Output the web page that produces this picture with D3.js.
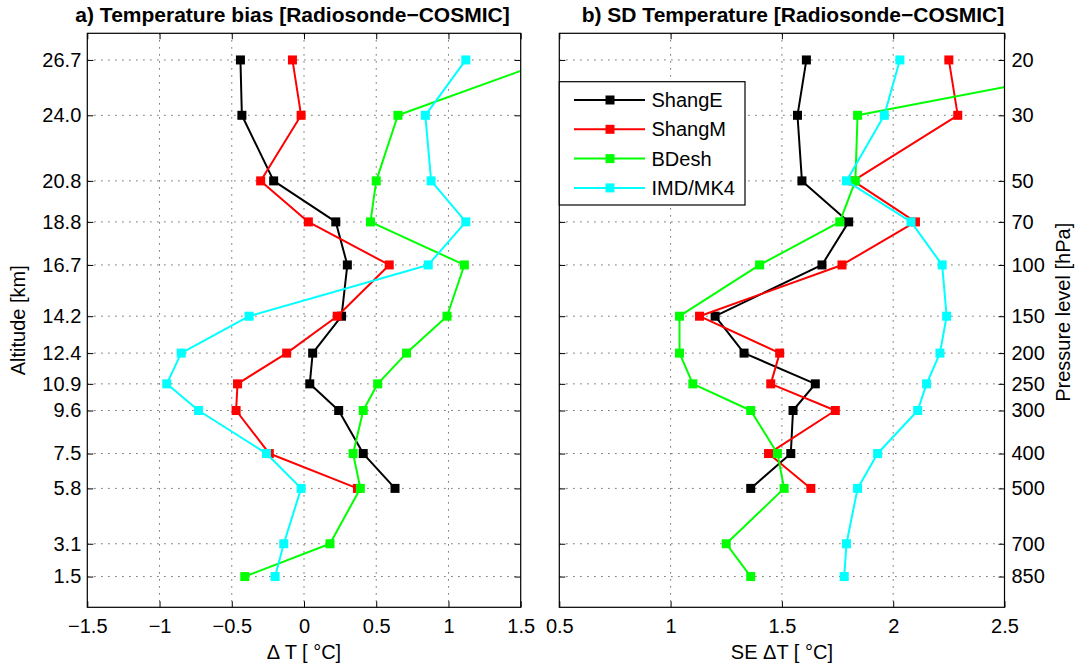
<!DOCTYPE html>
<html>
<head>
<meta charset="utf-8">
<script src="https://cdn.jsdelivr.net/npm/d3@7"></script>
<style>
  html, body { margin: 0; padding: 0; background: #fff; }
  svg { display: block; }
  text { font-family: "Liberation Sans", Arial, Helvetica, sans-serif; fill: #000; }
</style>
</head>
<body>
<svg id="chart" width="1079" height="670"></svg>
<script>
// ---------------- data ----------------
const pressureLevels = [20, 30, 50, 70, 100, 150, 200, 250, 300, 400, 500, 700, 850];
const altitudes = [26.7, 24.0, 20.8, 18.8, 16.7, 14.2, 12.4, 10.9, 9.6, 7.5, 5.8, 3.1, 1.5];

const seriesNames = ["ShangE", "ShangM", "BDesh", "IMD/MK4"];
const seriesColors = ["#000000", "#ff0000", "#00ff00", "#00ffff"];

// a) mean temperature bias (Radiosonde - COSMIC), °C
const biasShangE = [-0.44, -0.43, -0.21, 0.22, 0.30, 0.26, 0.06, 0.04, 0.24, 0.41, 0.63, null, null];
const biasShangM = [-0.08, -0.02, -0.30, 0.03, 0.59, 0.23, -0.12, -0.46, -0.47, -0.24, 0.37, null, null];
const biasBDesh  = [1.71, 0.65, 0.50, 0.46, 1.11, 0.99, 0.71, 0.51, 0.41, 0.34, 0.39, 0.18, -0.41];
const biasIMD    = [1.12, 0.84, 0.88, 1.12, 0.86, -0.38, -0.85, -0.95, -0.73, -0.26, -0.02, -0.14, -0.20];

// b) standard deviation of temperature difference, °C
const sdShangE = [1.61, 1.57, 1.59, 1.80, 1.68, 1.20, 1.33, 1.65, 1.55, 1.54, 1.36, null, null];
const sdShangM = [2.25, 2.29, 1.82, 2.10, 1.77, 1.13, 1.49, 1.45, 1.74, 1.44, 1.63, null, null];
const sdBDesh  = [3.14, 1.84, 1.83, 1.76, 1.40, 1.04, 1.04, 1.10, 1.36, 1.48, 1.51, 1.25, 1.36];
const sdIMD    = [2.03, 1.96, 1.79, 2.08, 2.22, 2.24, 2.21, 2.15, 2.11, 1.93, 1.84, 1.79, 1.78];

const xTicksA = [-1.5, -1, -0.5, 0, 0.5, 1, 1.5];
const xTicksB = [0.5, 1, 1.5, 2, 2.5];

const titleA = "a) Temperature bias [Radiosonde\u2212COSMIC]";
const titleB = "b) SD Temperature [Radiosonde\u2212COSMIC]";
const xLabelA = "\u0394 T [ \u00B0C]";
const xLabelB = "SE \u0394T [ \u00B0C]";
const yLabelA = "Altitude [km]";
const yLabelB = "Pressure level [hPa]";

// ---------------- layout ----------------
const svg = d3.select("#chart");
const plotTop = 33.3, plotBottom = 607.3;
const y = d3.scaleLinear().domain([0, 28]).range([plotBottom, plotTop]);
const xA = d3.scaleLinear().domain([-1.5, 1.5]).range([87.3, 520.7]);
const xB = d3.scaleLinear().domain([0.5, 2.5]).range([559.3, 1004.5]);

const FONT = 20;
const fmtX = d3.format("");

function panel(id, x, xTicks, seriesVals) {
  const g = svg.append("g");
  const [x0, x1] = x.range();

  g.append("clipPath").attr("id", "clip" + id)
    .append("rect").attr("x", x0).attr("y", plotTop).attr("width", x1 - x0).attr("height", plotBottom - plotTop);

  // grid
  const grid = g.append("g").attr("stroke", "#444").attr("stroke-width", 1)
    .attr("stroke-dasharray", "1.2,5.8");
  grid.selectAll("line.v").data(xTicks.filter(t => t > x.domain()[0] && t < x.domain()[1]))
    .join("line").attr("class", "v")
    .attr("x1", d => x(d)).attr("x2", d => x(d)).attr("y1", plotTop).attr("y2", plotBottom);
  grid.selectAll("line.h").data(altitudes).join("line").attr("class", "h")
    .attr("x1", x0).attr("x2", x1).attr("y1", d => y(d)).attr("y2", d => y(d));

  // series
  const plot = g.append("g").attr("clip-path", `url(#clip${id})`);
  const line = d3.line().defined(d => d.v != null).x(d => x(d.v)).y(d => y(d.a));
  seriesVals.forEach((vals, i) => {
    const pts = vals.map((v, k) => ({ v, a: altitudes[k] }));
    plot.append("path").datum(pts).attr("d", line)
      .attr("fill", "none").attr("stroke", seriesColors[i]).attr("stroke-width", 2)
      .attr("stroke-linejoin", "round");
    plot.selectAll(null).data(pts.filter(d => d.v != null)).join("rect")
      .attr("x", d => x(d.v) - 4.5).attr("y", d => y(d.a) - 4.5)
      .attr("width", 9).attr("height", 9).attr("fill", seriesColors[i]);
  });

  // axes (ticks pointing inward)
  const bottomAxis = d3.axisBottom(x).tickValues(xTicks).tickFormat(fmtX).tickSizeInner(-6).tickSizeOuter(0).tickPadding(12);
  const topAxis = d3.axisTop(x).tickValues(xTicks).tickFormat("").tickSizeInner(-6).tickSizeOuter(0);
  const gb = g.append("g").attr("transform", `translate(0,${plotBottom})`).call(bottomAxis);
  const gt = g.append("g").attr("transform", `translate(0,${plotTop})`).call(topAxis);
  [gb, gt].forEach(s => { s.select(".domain").remove(); s.selectAll("line").attr("stroke", "#000"); });
  gb.selectAll("text").attr("font-size", FONT).attr("dy", "0.71em").attr("y", 12);

  return g;
}

const gA = panel("A", xA, xTicksA, [biasShangE, biasShangM, biasBDesh, biasIMD]);
const gB = panel("B", xB, xTicksB, [sdShangE, sdShangM, sdBDesh, sdIMD]);

// y axes
const altFmt = d3.format(".1f");
function yAxes(g, x, labelSide) {
  const [x0, x1] = x.range();
  const la = d3.axisLeft(y).tickValues(altitudes).tickSizeInner(-6).tickSizeOuter(0).tickPadding(6)
    .tickFormat(labelSide === "left" ? altFmt : "");
  const ra = d3.axisRight(y).tickValues(altitudes).tickSizeInner(-6).tickSizeOuter(0).tickPadding(7)
    .tickFormat(labelSide === "right" ? ((d, i) => pressureLevels[i]) : "");
  const gl = g.append("g").attr("transform", `translate(${x0},0)`).call(la);
  const gr = g.append("g").attr("transform", `translate(${x1},0)`).call(ra);
  [gl, gr].forEach(s => {
    s.select(".domain").remove();
    s.selectAll("line").attr("stroke", "#000");
    s.selectAll("text").attr("font-size", FONT);
  });
}
yAxes(gA, xA, "left");
yAxes(gB, xB, "right");

// frames
[xA, xB].forEach(x => {
  const [x0, x1] = x.range();
  svg.append("rect").attr("x", x0).attr("y", plotTop).attr("width", x1 - x0).attr("height", plotBottom - plotTop)
    .attr("fill", "none").attr("stroke", "#000").attr("stroke-width", 1.2);
});

// titles
svg.append("text").attr("x", 292.5).attr("y", 22).attr("text-anchor", "middle")
  .attr("font-size", 21).attr("font-weight", "bold").text(titleA);
svg.append("text").attr("x", 793).attr("y", 22).attr("text-anchor", "middle")
  .attr("font-size", 21).attr("font-weight", "bold").text(titleB);

// axis labels
svg.append("text").attr("x", xA(0)).attr("y", 659).attr("text-anchor", "middle")
  .attr("font-size", FONT).text(xLabelA);
svg.append("text").attr("x", xB(1.5)).attr("y", 659).attr("text-anchor", "middle")
  .attr("font-size", FONT).text(xLabelB);
svg.append("text").attr("transform", `translate(25,${(plotTop + plotBottom) / 2}) rotate(-90)`)
  .attr("text-anchor", "middle").attr("font-size", FONT).text(yLabelA);
svg.append("text").attr("transform", `translate(1070,${(plotTop + plotBottom) / 2 - 8}) rotate(-90)`)
  .attr("text-anchor", "middle").attr("font-size", FONT).text(yLabelB);

// legend
const lg = svg.append("g");
lg.append("rect").attr("x", 559.3).attr("y", 81.7).attr("width", 185.7).attr("height", 123.3)
  .attr("fill", "#fff").attr("stroke", "#000").attr("stroke-width", 1.2);
const rowY = [100, 129.3, 158.6, 187.9];
seriesNames.forEach((name, i) => {
  lg.append("line").attr("x1", 574).attr("x2", 645).attr("y1", rowY[i]).attr("y2", rowY[i])
    .attr("stroke", seriesColors[i]).attr("stroke-width", 2);
  lg.append("rect").attr("x", 610 - 4.5).attr("y", rowY[i] - 4.5).attr("width", 9).attr("height", 9)
    .attr("fill", seriesColors[i]);
  lg.append("text").attr("x", 651.5).attr("y", rowY[i]).attr("dy", "0.35em")
    .attr("font-size", FONT).text(name);
});
</script>
</body>
</html>
